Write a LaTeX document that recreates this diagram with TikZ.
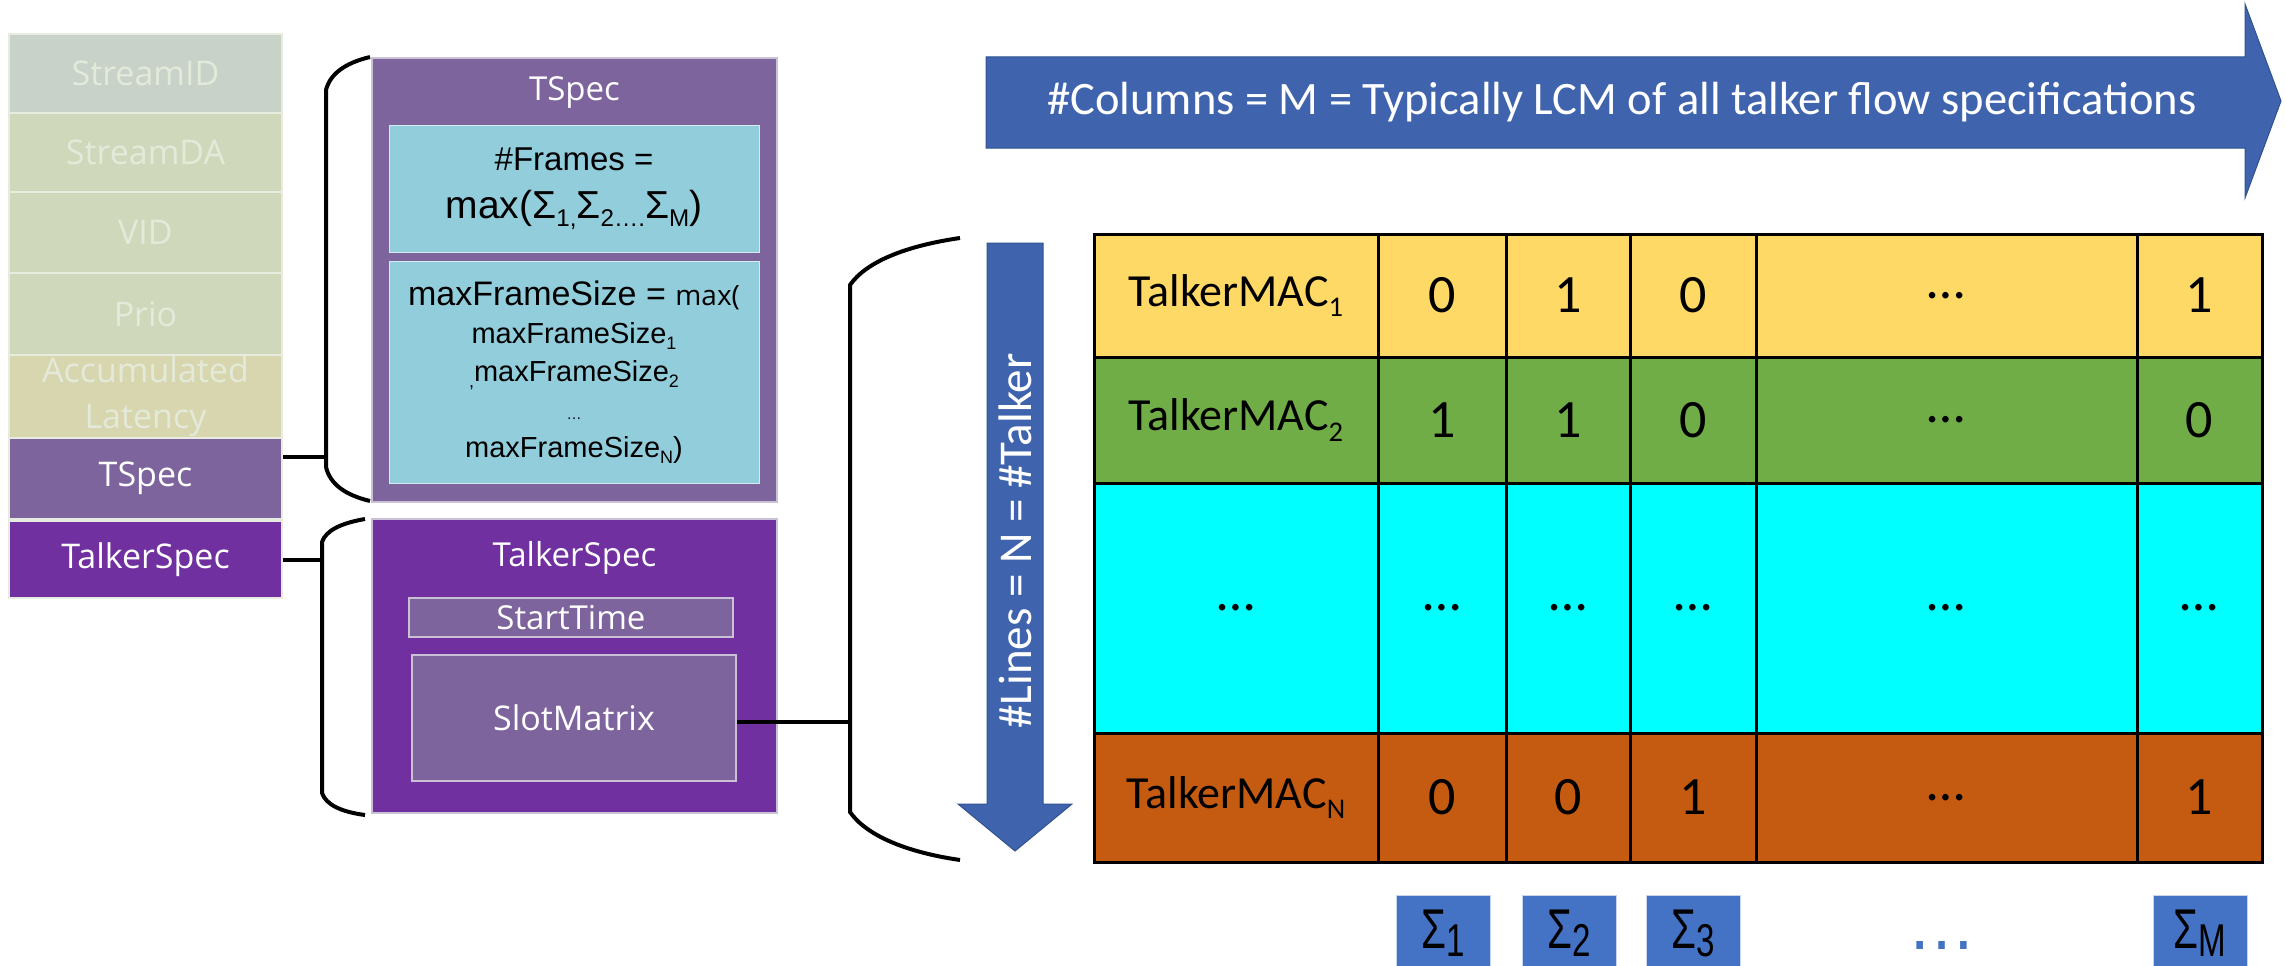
\documentclass[tikz,border=0pt]{standalone}
\usepackage{fontspec}
\usepackage{graphicx}
\setmainfont{Open Sans}
\newfontfamily\calfont{Carlito}
\newfontfamily\arifont{Liberation Sans}
\usetikzlibrary{calc}

\definecolor{sidfill}{HTML}{C8D2C9}
\definecolor{dafill}{HTML}{D0D8BC}
\definecolor{latfill}{HTML}{D8D6AF}
\definecolor{fadetext}{HTML}{E4EAD9}
\definecolor{fadeline}{HTML}{E8ECE0}
\definecolor{tsp}{HTML}{7E649C}
\definecolor{tlk}{HTML}{7030A0}
\definecolor{lblue}{HTML}{92CDDC}
\definecolor{arrowblue}{HTML}{3F64AD}
\definecolor{arrowedge}{HTML}{2F528F}
\definecolor{sigblue}{HTML}{4472C4}
\definecolor{rowyel}{HTML}{FFD966}
\definecolor{rowgrn}{HTML}{70AD47}
\definecolor{rowcyn}{HTML}{00FFFF}
\definecolor{roworg}{HTML}{C55A11}

\newcommand\fsz[2]{\fontsize{#1}{#2}\selectfont}
\newcommand\sub[1]{\raisebox{-0.22em}{\scalebox{0.62}{#1}}}

\tikzset{
  field/.style={draw=fadeline, line width=1.5pt, inner sep=0pt, text=fadetext,
    font=\fsz{34}{46}, align=center, minimum width=273pt},
  specbox/.style={draw=white!60!tsp, line width=1.5pt, inner sep=0pt, text=white, align=center},
  infobox/.style={draw=white!60!lblue, line width=1pt, fill=lblue, inner sep=0pt,
    align=center, text=black},
  link/.style={line width=4pt},
  bracket/.style={line width=4pt},
  cell/.style={draw=black, line width=3pt, inner sep=0pt},
  sigbox/.style={fill=sigblue, draw=white!70!sigblue, line width=1pt, inner sep=0pt},
  arrowbody/.style={fill=arrowblue, draw=arrowedge, line width=1pt},
}

\begin{document}
\begin{tikzpicture}[x=1pt, y=-1pt]
\useasboundingbox (0,0) rectangle (2286,966);

% ---------- stream fields (left column) ----------
\node[field, fill=sidfill, minimum height=79pt] (sid) at (145.5,73.5) {StreamID};
\node[field, fill=dafill, minimum height=79pt] (sda) at (145.5,152.5) {StreamDA};
\node[field, fill=dafill, minimum height=81pt] (vid) at (145.5,232.5) {VID};
\node[field, fill=dafill, minimum height=82pt] (prio) at (145.5,314) {Prio};
\node[field, fill=latfill, minimum height=83pt] (lat) at (145.5,396.5) {Accumulated\\Latency};
\node[field, fill=tsp, text=white, minimum height=81pt] (tsL) at (145.5,478.5) {TSpec};
\node[field, fill=tlk, text=white, minimum height=77pt] (tkL) at (145.5,559.5) {TalkerSpec};

% ---------- TSpec detail ----------
\node[specbox, fill=tsp, minimum width=405pt, minimum height=444pt] (tsB) at (574.5,280) {};
\node[text=white, font=\fsz{33}{38}] (tsT) at (574.5,93) {TSpec};
\node[infobox, minimum width=370pt, minimum height=127pt, font=\arifont\fsz{33}{48}] (fr) at (574,188.5)
  {\#Frames =\\{\fsz{39}{48}max(Σ\sub{1,}Σ\sub{2….}Σ\sub{M})}};
\node[infobox, minimum width=370pt, minimum height=222pt, font=\arifont\fsz{29}{38}] (mfs) at (574,372)
  {{\fsz{34}{38}maxFrameSize = }{\rmfamily\fsz{28}{38}max(}\\
   maxFrameSize\sub{1}\\
   \sub{,}maxFrameSize\sub{2}\\
   {\fsz{15}{38}…}\\
   maxFrameSize\sub{N})};

% ---------- TalkerSpec detail ----------
\node[specbox, fill=tlk, minimum width=405pt, minimum height=294pt] (tkB) at (574.5,666) {};
\node[text=white, font=\fsz{33}{38}] (tkT) at (574.5,558) {TalkerSpec};
\node[specbox, fill=tsp, minimum width=324pt, minimum height=39pt, font=\fsz{33}{38}] (st) at (571,617.5) {StartTime};
\node[specbox, fill=tsp, minimum width=324pt, minimum height=126pt, font=\fsz{34}{38}] (sm) at (574,718) {SlotMatrix};

% ---------- brackets and their links ----------
\coordinate (b1m) at (326,457);
\draw[bracket] (370,57) .. controls (345,63) and (330,74) .. (326,90) -- (326,467)
  .. controls (330,484) and (345,495) .. (370,501);
\draw[link] (tsL.east |- b1m) -- (b1m);

\coordinate (b2m) at (322,560);
\draw[bracket] (365,519) .. controls (342,523) and (326,530) .. (322,542) -- (322,793)
  .. controls (326,805) and (342,812) .. (365,815);
\draw[link] (tkL.east |- b2m) -- (b2m);

\coordinate (b3m) at (850,722);
\draw[bracket] (960,238) .. controls (905,246) and (866,262) .. (850,285) -- (850,812)
  .. controls (866,835) and (905,852) .. (960,860);
\draw[link] (sm.east |- b3m) -- (b3m);

% ---------- dimension arrows ----------
\path[arrowbody] (987,243) -- (1043,243) -- (1043,804) -- (1072,804) -- (1015,851)
  -- (958,804) -- (987,804) -- cycle;
\node[rotate=90, text=white, font=\calfont\fsz{47}{52}] (lines) at (1015,541) {\#Lines = N = \#Talker};

\path[arrowbody] (986,57) -- (2245,57) -- (2245,4) -- (2281,101) -- (2245,198)
  -- (2245,148) -- (986,148) -- cycle;
\node[text=white, font=\calfont\fsz{46.5}{52}] (cols) at (1622,102)
  {\#Columns = M = Typically LCM of all talker flow specifications};

% ---------- slot matrix ----------
\def\colx{{1094,1378,1506,1630,1756,2137,2262}}
\foreach \r/\ya/\yb/\rc/\cells in {
  1/234/357/rowyel/{{\fsz{46}{50}TalkerMAC\sub{1}},0,1,0,…,1},
  2/357/483/rowgrn/{{\fsz{46}{50}TalkerMAC\sub{2}},1,1,0,…,0},
  3/483/733/rowcyn/{…,…,…,…,…,…},
  4/733/862/roworg/{{\fsz{46}{50}TalkerMAC\sub{N}},0,0,1,…,1}}{
  \foreach \t [count=\c] in \cells {
    \pgfmathsetmacro\xa{\colx[\c-1]}
    \pgfmathsetmacro\xb{\colx[\c]}
    \pgfmathsetmacro\cw{\xb-\xa}
    \pgfmathsetmacro\ch{\yb-\ya}
    \node[cell, fill=\rc, minimum width=\cw pt, minimum height=\ch pt, font=\calfont\fsz{54}{58}]
      (m\r\c) at ({(\xa+\xb)/2},{(\ya+\yb)/2}) {\t};
  }
}

% ---------- column sums ----------
\foreach \n/\xa/\xb/\s in {s1/1396/1490/1, s2/1522/1616/2, s3/1646/1740/3, sM/2153/2247/M}{
  \pgfmathsetmacro\cw{\xb-\xa}
  \node[sigbox, minimum width=\cw pt, minimum height=75pt, anchor=north] (\n) at ({(\xa+\xb)/2},895) {};
  \node[anchor=base, inner sep=0pt, font=\arifont\fsz{56}{58}] (\n t) at ({(\xa+\xb)/2},948)
    {\scalebox{0.72}[1]{Σ\raisebox{-0.15em}{\fsz{46}{46}\s}}};
}
\node[anchor=base, inner sep=0pt, text=sigblue, font=\arifont\fsz{60}{60}] (sdots) at (1942,949)
  {\scalebox{1.15}[1.25]{…}};

\end{tikzpicture}
\end{document}
